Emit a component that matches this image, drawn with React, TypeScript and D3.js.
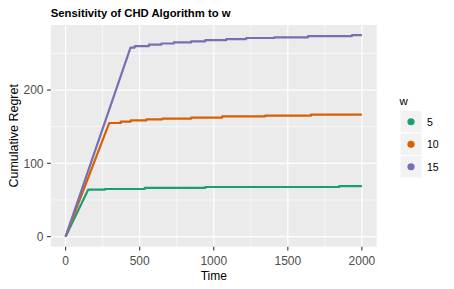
import React from "react";
import * as d3 from "d3";

const seriesNames = ["5", "10", "15"];
const seriesColors = ["#1B9E77", "#D95F02", "#7570B3"];

// knee of the ramp [time, regret] for each w
const kneeW5: [number, number] = [152, 64];
const kneeW10: [number, number] = [294, 155];
const kneeW15: [number, number] = [438, 258];

// steps on the plateau: [time, new regret]
const stepsW5: [number, number][] = [[265, 65], [534, 66.5], [943, 67.7], [1847, 69]];
const stepsW10: [number, number][] = [
  [372, 157], [440, 158.5], [545, 160], [653, 161], [848, 162.5],
  [1057, 164], [1347, 165], [1657, 166.5],
];
const stepsW15: [number, number][] = [
  [467, 260], [563, 262], [646, 263.5], [731, 265], [848, 266.5], [943, 268],
  [1084, 269.5], [1219, 271], [1409, 272], [1636, 273.5], [1933, 275],
];

const xTicks = [0, 500, 1000, 1500, 2000];
const xMinor = [250, 750, 1250, 1750];
const yTicks = [0, 100, 200];
const yMinor = [50, 150, 250];
const timeMax = 2000;

function buildPoints(knee: [number, number], steps: [number, number][]) {
  const pts: [number, number][] = [[0, 0], knee];
  let prev = knee[1];
  for (const [t, v] of steps) {
    pts.push([t, prev]);
    pts.push([t, v]);
    prev = v;
  }
  pts.push([timeMax, prev]);
  return pts;
}

const series = [
  buildPoints(kneeW5, stepsW5),
  buildPoints(kneeW10, stepsW10),
  buildPoints(kneeW15, stepsW15),
];

export default function App() {
  const W = 454, H = 289;
  const pl = 50.8, pr = 376.7, pt = 25, pb = 246.7;
  const yMaxData = d3.max(series.flat(), (d) => d[1]) as number;
  const yExp = yMaxData * 0.05;
  const x = d3.scaleLinear().domain([-timeMax * 0.05, timeMax * 1.05]).range([pl, pr]);
  const y = d3.scaleLinear().domain([-yExp, yMaxData + yExp]).range([pb, pt]);
  const line = d3.line<[number, number]>().x((d) => x(d[0])).y((d) => y(d[1]));
  const font = "'Liberation Sans', Arial, sans-serif";

  const keyX = 400, keyY0 = 110.5, keyS = 22.5;

  return (
    <svg width={W} height={H} style={{ position: "absolute", left: 0, top: 0, display: "block" }} fontFamily={font}>
      <rect x={0} y={0} width={W} height={H} fill="#FFFFFF" />
      <rect x={pl} y={pt} width={pr - pl} height={pb - pt} fill="#EBEBEB" />
      {xMinor.map((v) => (
        <line key={"xm" + v} x1={x(v)} x2={x(v)} y1={pt} y2={pb} stroke="#FFFFFF" strokeWidth={0.6} />
      ))}
      {yMinor.map((v) => (
        <line key={"ym" + v} x1={pl} x2={pr} y1={y(v)} y2={y(v)} stroke="#FFFFFF" strokeWidth={0.6} />
      ))}
      {xTicks.map((v) => (
        <line key={"xM" + v} x1={x(v)} x2={x(v)} y1={pt} y2={pb} stroke="#FFFFFF" strokeWidth={1.2} />
      ))}
      {yTicks.map((v) => (
        <line key={"yM" + v} x1={pl} x2={pr} y1={y(v)} y2={y(v)} stroke="#FFFFFF" strokeWidth={1.2} />
      ))}
      {series.map((pts, i) => (
        <path key={"s" + i} d={line(pts) || ""} fill="none" stroke={seriesColors[i]} strokeWidth={2.2} strokeLinejoin="round" />
      ))}
      {xTicks.map((v) => (
        <g key={"xt" + v}>
          <line x1={x(v)} x2={x(v)} y1={pb} y2={pb + 3.7} stroke="#333333" strokeWidth={1.1} />
          <text x={x(v)} y={265} textAnchor="middle" fontSize={12} fill="#4D4D4D">{v}</text>
        </g>
      ))}
      {yTicks.map((v) => (
        <g key={"yt" + v}>
          <line x1={pl - 3.7} x2={pl} y1={y(v)} y2={y(v)} stroke="#333333" strokeWidth={1.1} />
          <text x={43.5} y={y(v) + 4.3} textAnchor="end" fontSize={12} fill="#4D4D4D">{v}</text>
        </g>
      ))}
      <text x={(pl + pr) / 2} y={280} textAnchor="middle" fontSize={12} fill="#000000">Time</text>
      <text transform={`translate(17.5,${(pt + pb) / 2}) rotate(-90)`} textAnchor="middle" fontSize={12.5} fill="#000000">Cumulative Regret</text>
      <text x={pl} y={17} fontSize={11.3} fontWeight="bold" fill="#000000">Sensitivity of CHD Algorithm to w</text>
      <text x={399.5} y={104.5} fontSize={11.5} fill="#000000">w</text>
      {seriesNames.map((n, i) => (
        <g key={"lg" + n}>
          <rect x={keyX} y={keyY0 + i * keyS} width={22} height={keyS} fill="#F2F2F2" stroke="#FFFFFF" strokeWidth={1} />
          <circle cx={keyX + 11} cy={keyY0 + i * keyS + keyS / 2} r={3.6} fill={seriesColors[i]} />
          <text x={427} y={keyY0 + i * keyS + keyS / 2 + 3.8} fontSize={10.5} fill="#000000">{n}</text>
        </g>
      ))}
    </svg>
  );
}
